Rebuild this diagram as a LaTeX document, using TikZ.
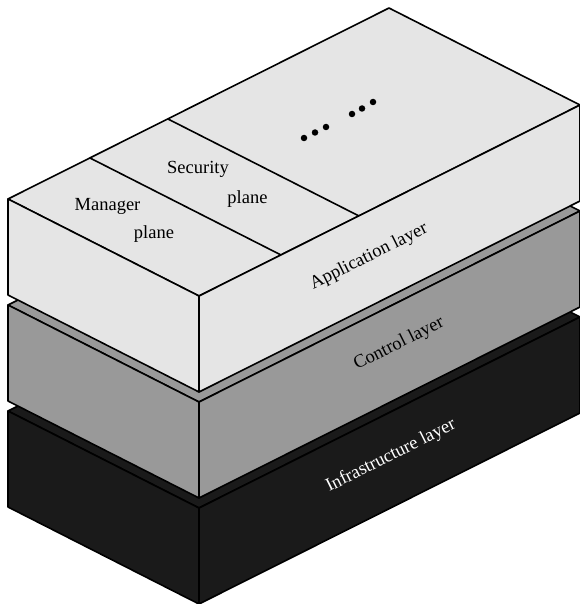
\documentclass[tikz,border=0pt]{standalone}
\usepackage{fontspec}
\setmainfont{Liberation Serif}
\begin{document}
\begin{tikzpicture}[x=1pt,y=-1pt,
  face/.style={draw=black,line width=1.6pt,line join=round},
  applayer/.style={face,fill=appgray},
  ctrlayer/.style={face,fill=ctrgray},
  infralayer/.style={face,fill=infgray},
  lbl/.style={font=\fontsize{18.5}{22}\selectfont,inner sep=0pt},
  sidelbl/.style={lbl,rotate=26.57},
  divline/.style={draw=black,line width=1.6pt},
  dot/.style={circle,fill=black,inner sep=0pt,minimum size=6.5pt}]
\definecolor{appgray}{HTML}{E5E5E5}
\definecolor{ctrgray}{HTML}{999999}
\definecolor{infgray}{HTML}{1A1A1A}
\useasboundingbox (0,0) rectangle (579,604);
% ---------- Infrastructure layer ----------
\coordinate (iF) at (199,508); \coordinate (iL) at (8,411);
\coordinate (iB) at (389,220); \coordinate (iR) at (580,317);
\coordinate (iFb) at (199,604); \coordinate (iLb) at (8,507);
\coordinate (iRb) at (580,413);
\draw[infralayer] (iF) -- (iL) -- (iB) -- (iR) -- cycle;
\draw[infralayer] (iL) -- (iF) -- (iFb) -- (iLb) -- cycle;
\draw[infralayer] (iF) -- (iR) -- (iRb) -- (iFb) -- cycle;
% ---------- Control layer ----------
\coordinate (cF) at (199,402); \coordinate (cL) at (8,305);
\coordinate (cB) at (389,114); \coordinate (cR) at (580,211);
\coordinate (cFb) at (199,498); \coordinate (cLb) at (8,401);
\coordinate (cRb) at (580,307);
\draw[ctrlayer] (cF) -- (cL) -- (cB) -- (cR) -- cycle;
\draw[ctrlayer] (cL) -- (cF) -- (cFb) -- (cLb) -- cycle;
\draw[ctrlayer] (cF) -- (cR) -- (cRb) -- (cFb) -- cycle;
% ---------- Application layer ----------
\coordinate (aF) at (199,296); \coordinate (aL) at (8,199);
\coordinate (aB) at (389,8); \coordinate (aR) at (580,105);
\coordinate (aFb) at (199,392); \coordinate (aLb) at (8,295);
\coordinate (aRb) at (580,201);
\draw[applayer] (aF) -- (aL) -- (aB) -- (aR) -- cycle;
\draw[applayer] (aL) -- (aF) -- (aFb) -- (aLb) -- cycle;
\draw[applayer] (aF) -- (aR) -- (aRb) -- (aFb) -- cycle;
% plane dividers
\coordinate (d1a) at (90,158); \coordinate (d1b) at (281,255);
\coordinate (d2a) at (168,119); \coordinate (d2b) at (359,216);
\draw[divline] (d1a) -- (d1b);
\draw[divline] (d2a) -- (d2b);
% labels on top face
\node[lbl] (mgr) at (107.5,206) {Manager};
\node[lbl] (mgrp) at (154,234) {plane};
\node[lbl] (sec) at (198,169) {Security};
\node[lbl] (secp) at (247.5,199) {plane};
% dots
\node[dot] (p1) at (304,138) {};
\node[dot] (p2) at (315,132.5) {};
\node[dot] (p3) at (326,127) {};
\node[dot] (p4) at (352,114) {};
\node[dot] (p5) at (362,108.5) {};
\node[dot] (p6) at (373,102) {};
% side labels
\node[sidelbl] (applbl) at (369,257) {Application layer};
\node[sidelbl] (ctrlbl) at (399,344) {Control layer};
\node[sidelbl,text=white] (inflbl) at (391,456) {Infrastructure layer};
\end{tikzpicture}
\end{document}
